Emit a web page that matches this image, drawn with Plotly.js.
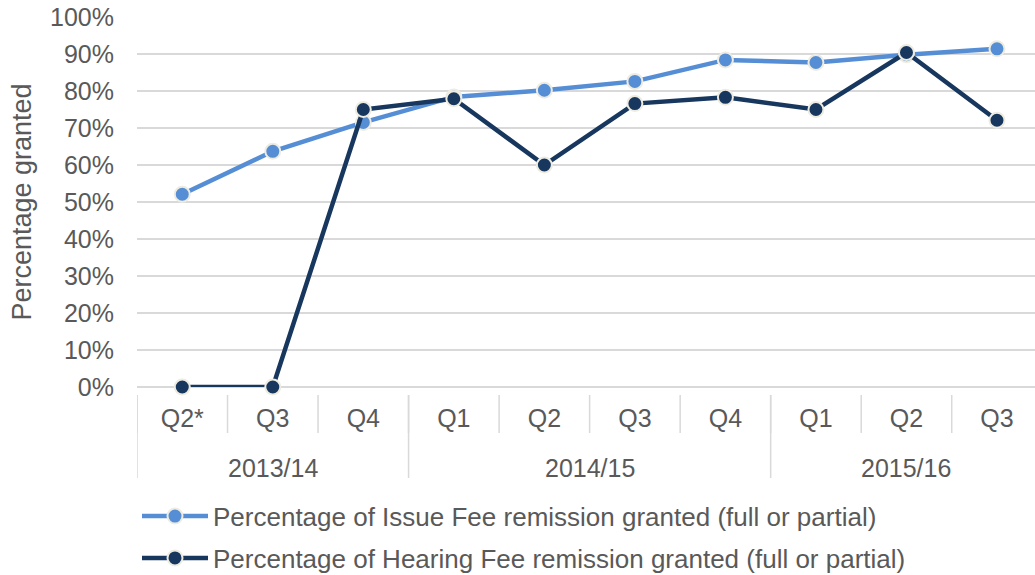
<!DOCTYPE html>
<html>
<head>
<meta charset="utf-8">
<script src="https://cdn.plot.ly/plotly-3.0.1.min.js"></script>
<style>html,body{margin:0;padding:0;background:#fff;}#chart{width:1035px;height:575px;}</style>
</head>
<body>
<div id="chart"></div>
<script>
const years = ["2013/14","2013/14","2013/14","2014/15","2014/15","2014/15","2014/15","2015/16","2015/16","2015/16"];
const quarters = ["Q2*","Q3","Q4","Q1","Q2","Q3","Q4","Q1","Q2","Q3"];
const issueFee = [52.1, 63.7, 71.5, 78.4, 80.2, 82.6, 88.4, 87.7, 89.8, 91.4];
const hearingFee = [0, 0, 75.0, 77.9, 60.0, 76.6, 78.3, 75.0, 90.4, 72.1];
const seriesNames = [
  "Percentage of Issue Fee remission granted (full or partial)",
  "Percentage of Hearing Fee remission granted (full or partial)"
];

const grey = "#595959";
const gridc = "#d9d9d9";
const fontFam = "Liberation Sans, Arial, sans-serif";

const idx = quarters.map((q, i) => i);

// year groups
const yearGroups = [];
years.forEach((y, i) => {
  const last = yearGroups[yearGroups.length - 1];
  if (last && last.name === y) last.end = i; else yearGroups.push({name: y, start: i, end: i});
});

const shapes = [];
for (let i = 0; i <= quarters.length; i++) {
  shapes.push({type: "line", xref: "x", yref: "paper", x0: i - 0.5, x1: i - 0.5,
    y0: -8 / 370, y1: -46 / 370, line: {color: gridc, width: 1.5}});
}
yearGroups.forEach((g, k) => {
  const xs = [g.start - 0.5];
  if (k === yearGroups.length - 1) xs.push(g.end + 0.5);
  xs.forEach(xv => shapes.push({type: "line", xref: "x", yref: "paper", x0: xv, x1: xv,
    y0: -8 / 370, y1: -91 / 370, line: {color: gridc, width: 1.5}}));
});

const annotations = yearGroups.map(g => ({
  text: g.name, xref: "x", yref: "paper", x: (g.start + g.end) / 2, y: -81 / 370,
  xanchor: "center", yanchor: "middle", showarrow: false,
  font: {family: fontFam, color: grey, size: 25}
}));

const traces = [
  {
    x: idx, y: issueFee, name: seriesNames[0], type: "scatter", mode: "lines+markers",
    line: {color: "#558ed5", width: 4.5},
    marker: {color: "#558ed5", size: 15, line: {color: "#eeece1", width: 2}},
    cliponaxis: false, legendgroup: "a"
  },
  {
    x: idx, y: hearingFee, name: seriesNames[1], type: "scatter", mode: "lines+markers",
    line: {color: "#17375e", width: 4.5},
    marker: {color: "#17375e", size: 15, line: {color: "#eeece1", width: 2}},
    cliponaxis: false, legendgroup: "b"
  }
];

const layout = {
  width: 1035, height: 575,
  margin: {l: 137, r: 0, t: 17, b: 188, autoexpand: false},
  paper_bgcolor: "#fff", plot_bgcolor: "#fff",
  font: {family: fontFam, color: grey, size: 25},
  showlegend: true,
  legend: {
    x: 0, xanchor: "left", y: -0.2857, yanchor: "top",
    font: {family: fontFam, color: grey, size: 26},
    traceorder: "grouped", tracegroupgap: 5, itemwidth: 66
  },
  xaxis: {
    range: [-0.5, 9.42],
    tickmode: "array", tickvals: idx, ticktext: quarters,
    showgrid: false, ticks: "", ticklabelstandoff: 14,
    tickfont: {family: fontFam, color: grey, size: 25},
    showline: false, zeroline: false, fixedrange: true
  },
  yaxis: {
    range: [0, 100], dtick: 10, ticksuffix: "%",
    showgrid: true, gridcolor: gridc, gridwidth: 1.5,
    zeroline: true, zerolinecolor: gridc, zerolinewidth: 1.5,
    tickfont: {family: fontFam, color: grey, size: 25},
    ticklabelstandoff: 22,
    title: {text: "Percentage granted", font: {family: fontFam, color: grey, size: 27}, standoff: 10},
    fixedrange: true
  },
  shapes: shapes,
  annotations: annotations
};

Plotly.newPlot("chart", traces, layout, {displayModeBar: false, staticPlot: true});
</script>
</body>
</html>
